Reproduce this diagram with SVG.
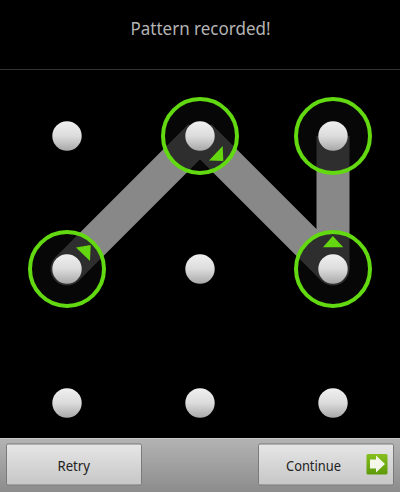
<svg xmlns="http://www.w3.org/2000/svg" width="400" height="492" viewBox="0 0 400 492">
<style>
.seg{fill:none;stroke-width:33;stroke-linecap:butt}
.ring{fill:#070707;stroke:none}
.ringline{fill:none;stroke:#62d911;stroke-width:4}
.tri{fill:#63d60f}
.btn{fill:url(#btnG);stroke:#7a7a7a;stroke-width:1}
.t{font-family:"Noto Sans","Open Sans",sans-serif}
.dot{fill:url(#dotG)}
</style>
<defs>
<linearGradient id="dotG" x1="0" y1="0" x2="0" y2="1"><stop offset="0" stop-color="#f0f0f0"/><stop offset=".5" stop-color="#dcdcdc"/><stop offset="1" stop-color="#a8a8a8"/></linearGradient>
<linearGradient id="btnG" x1="0" y1="0" x2="0" y2="1"><stop offset="0" stop-color="#e6e6e6"/><stop offset="1" stop-color="#c6c6c6"/></linearGradient>
<linearGradient id="barG" x1="0" y1="0" x2="0" y2="1"><stop offset="0" stop-color="#b4b4b4"/><stop offset="1" stop-color="#8c8c8c"/></linearGradient>
<linearGradient id="icoG" x1="0" y1="0" x2="0" y2="1"><stop offset="0" stop-color="#86bf1e"/><stop offset="1" stop-color="#5c9a08"/></linearGradient>
<clipPath id="rings">
<circle cx="67" cy="269" r="37"/><circle cx="200" cy="136" r="37"/><circle cx="333" cy="136" r="37"/><circle cx="333" cy="269" r="37"/>
</clipPath>
</defs>
<rect width="400" height="492" fill="#000"/>
<g id="header">
<text class="t" x="130.5" y="35" font-size="18" fill="#b4b4b4" textLength="140" lengthAdjust="spacingAndGlyphs">Pattern recorded!</text>
<line x1="0" y1="69.5" x2="400" y2="69.5" stroke="#333" stroke-width="1"/>
</g>
<g id="connectors">
<path class="seg" stroke="#888" d="M67 269L200 136M200 136L333 269M333 269V136"/>
<circle class="ring" cx="67" cy="269" r="37"/><circle class="ring" cx="200" cy="136" r="37"/><circle class="ring" cx="333" cy="136" r="37"/><circle class="ring" cx="333" cy="269" r="37"/>
<g clip-path="url(#rings)">
<path class="seg" stroke="#2e2e2e" d="M67 269L200 136M200 136L333 269M333 269V136"/>
<circle cx="67" cy="269" r="16.5" fill="#2e2e2e"/>
<circle cx="333" cy="269" r="16.5" fill="#2e2e2e"/>
</g>
</g>
<g id="node-1"><circle class="dot" cx="67" cy="136" r="14.7"/></g>
<g id="node-2"><circle class="ringline" cx="200" cy="136" r="37"/><circle class="dot" cx="200" cy="136" r="14.7"/><polygon class="tri" points="209,160.5 222.7,146 223.3,161"/></g>
<g id="node-3"><circle class="ringline" cx="333" cy="136" r="37"/><circle class="dot" cx="333" cy="136" r="14.7"/></g>
<g id="node-4"><circle class="ringline" cx="67" cy="269" r="37"/><circle class="dot" cx="67" cy="269" r="14.7"/><polygon class="tri" points="76,247.5 90.7,245 90,261"/></g>
<g id="node-5"><circle class="dot" cx="200" cy="269" r="14.7"/></g>
<g id="node-6"><circle class="ringline" cx="333" cy="269" r="37"/><circle class="dot" cx="333" cy="269" r="14.7"/><polygon class="tri" points="323,247.3 332.8,236 343.3,247.3"/></g>
<g id="node-7"><circle class="dot" cx="67" cy="403" r="14.7"/></g>
<g id="node-8"><circle class="dot" cx="200" cy="403" r="14.7"/></g>
<g id="node-9"><circle class="dot" cx="333" cy="403" r="14.7"/></g>
<g id="bar">
<rect x="0" y="438" width="400" height="54" fill="url(#barG)"/>
<line x1="0" y1="438.5" x2="400" y2="438.5" stroke="#c8c8c8"/>
</g>
<g id="retry">
<rect class="btn" x="6.5" y="444" width="135" height="41" rx="1.5"/>
<text class="t" x="57.5" y="471" font-size="15" fill="#222" textLength="32.5" lengthAdjust="spacingAndGlyphs">Retry</text>
</g>
<g id="continue">
<rect class="btn" x="258.5" y="444" width="135" height="41" rx="1.5"/>
<text class="t" x="286" y="471" font-size="15" fill="#222" textLength="55" lengthAdjust="spacingAndGlyphs">Continue</text>
<rect x="366.5" y="454" width="21" height="20.5" rx="1.5" fill="url(#icoG)"/>
<polygon points="370,459.5 376,459.5 376,455.5 385,464 376,472.5 376,468.5 370,468.5" fill="#f4f7ea"/>
</g>
</svg>
